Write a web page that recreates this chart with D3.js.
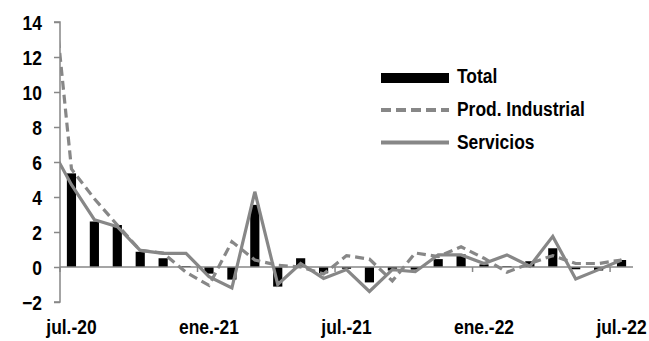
<!DOCTYPE html>
<html><head><meta charset="utf-8">
<script src="https://cdn.jsdelivr.net/npm/d3@7"></script>
<style>
html,body{margin:0;padding:0;background:#fff;}
svg text{font-family:"Liberation Sans",Arial,sans-serif;font-weight:bold;fill:#000;}
</style></head>
<body><svg id="c" width="649" height="341"></svg>
<script>
const months = ["jun.-20","jul.-20","ago.-20","sep.-20","oct.-20","nov.-20","dic.-20",
  "ene.-21","feb.-21","mar.-21","abr.-21","may.-21","jun.-21","jul.-21","ago.-21","sep.-21","oct.-21","nov.-21","dic.-21",
  "ene.-22","feb.-22","mar.-22","abr.-22","may.-22","jun.-22","jul.-22"];
const total = [null,5.35,2.6,2.4,0.87,0.5,0.05,-0.38,-0.72,3.55,-1.12,0.5,-0.36,-0.1,-0.88,-0.2,-0.15,0.45,0.72,0.15,0.05,0.33,1.07,-0.13,-0.2,0.4];
const prodIndustrial = [18.6,5.6,3.9,2.4,0.95,0.8,-0.3,-1.05,1.45,0.4,0.1,0.0,-0.4,0.65,0.45,-0.8,0.8,0.6,1.15,0.5,-0.3,0.2,0.65,0.2,0.2,0.4];
const servicios = [7.1,4.7,2.7,2.3,0.95,0.78,0.78,-0.55,-1.2,4.3,-1.0,0.2,-0.65,-0.15,-1.4,-0.15,-0.27,0.69,0.69,0.2,0.69,0.05,1.75,-0.68,-0.15,0.4];
const yTicks = [-2,0,2,4,6,8,10,12,14];
const xLabels = ["jul.-20","ene.-21","jul.-21","ene.-22","jul.-22"];
const seriesNames = ["Total","Prod. Industrial","Servicios"];

const svg = d3.select("#c");
const pLeft = 60, pRight = 633, pTop = 22, pBottom = 302;
const step = (pRight - pLeft) / 25;
const x = d3.scaleBand().domain(months).range([pLeft - step, pRight]);
const y = d3.scaleLinear().domain([-2, 14]).range([pBottom, pTop]);
const cx = m => x(m) + x.bandwidth() / 2;
const gray = "#878787";
const fs = 20.5, sx = 0.85;

svg.append("defs").append("clipPath").attr("id","plot")
  .append("rect").attr("x", pLeft).attr("y", 0).attr("width", pRight - pLeft).attr("height", 341);

// bars
const bw = x.bandwidth() * 0.4;
svg.append("g").selectAll("rect").data(months.map((m,i)=>({m, v: total[i]})).filter(d=>d.v!==null))
  .join("rect")
  .attr("x", d => cx(d.m) - bw/2)
  .attr("width", bw)
  .attr("y", d => y(Math.max(0, d.v)))
  .attr("height", d => Math.abs(y(d.v) - y(0)))
  .attr("fill", "#000");

// x axis ticks & line at zero
const xAxis = d3.axisBottom(x)
  .tickValues(months.filter((m,i)=> i>=1 && (i-1)%6===0))
  .tickSize(5).tickFormat("");
const gx = svg.append("g").attr("transform", `translate(${-x.bandwidth()/2},${y(0)})`).call(xAxis);
gx.select(".domain").remove();
gx.selectAll(".tick line").attr("stroke", gray).attr("stroke-width", 1.5);
svg.append("line").attr("x1", pLeft).attr("x2", pRight).attr("y1", y(0)).attr("y2", y(0))
  .attr("stroke", gray).attr("stroke-width", 1.5);

// lines
const line = d3.line().x((d,i)=>cx(months[i])).y(d=>y(d));
const lg = svg.append("g").attr("clip-path","url(#plot)");
lg.append("path").attr("d", line(prodIndustrial)).attr("fill","none")
  .attr("stroke", gray).attr("stroke-width", 3.2).attr("stroke-dasharray","9,5");
lg.append("path").attr("d", line(servicios)).attr("fill","none")
  .attr("stroke", gray).attr("stroke-width", 3.2).attr("stroke-linejoin","miter");

// y axis
const yAxis = d3.axisLeft(y).tickValues(yTicks).tickSize(6).tickFormat(d3.format("d"));
const gy = svg.append("g").attr("transform", `translate(${pLeft},0)`).call(yAxis);
gy.select(".domain").attr("stroke", gray).attr("stroke-width", 1.5).attr("d", `M-6,${pTop}H0V${pBottom}H-6`);
gy.selectAll(".tick line").attr("stroke", gray).attr("stroke-width", 1.5);
gy.selectAll(".tick text").attr("x", 0).attr("dy","0.36em")
  .attr("transform", `translate(-18,0) scale(${sx},1)`)
  .attr("font-size", fs).attr("font-family", null)
  .style("font-family",'"Liberation Sans",Arial,sans-serif').style("font-weight","bold");

// x labels
svg.append("g").selectAll("text").data(xLabels).join("text")
  .attr("transform", d => `translate(${cx(d)},334) scale(${sx},1)`)
  .attr("text-anchor","middle").attr("font-size", fs).text(d=>d);

// legend
const lx = 381, lw = 68, ly = [76, 109, 142];
const leg = svg.append("g");
leg.append("rect").attr("x", lx).attr("y", 73).attr("width", lw).attr("height", 10).attr("fill","#000");
leg.append("line").attr("x1", lx).attr("x2", lx+lw).attr("y1", 110).attr("y2", 110)
  .attr("stroke", gray).attr("stroke-width", 4).attr("stroke-dasharray","10,5");
leg.append("line").attr("x1", lx).attr("x2", lx+lw).attr("y1", 142.5).attr("y2", 142.5)
  .attr("stroke", gray).attr("stroke-width", 4);
leg.selectAll("text").data(seriesNames).join("text")
  .attr("transform", (d,i)=>`translate(${lx + lw + 8},${ly[i]}) scale(${sx},1)`)
  .attr("dy","0.36em").attr("font-size", fs).text(d=>d);
</script></body></html>
